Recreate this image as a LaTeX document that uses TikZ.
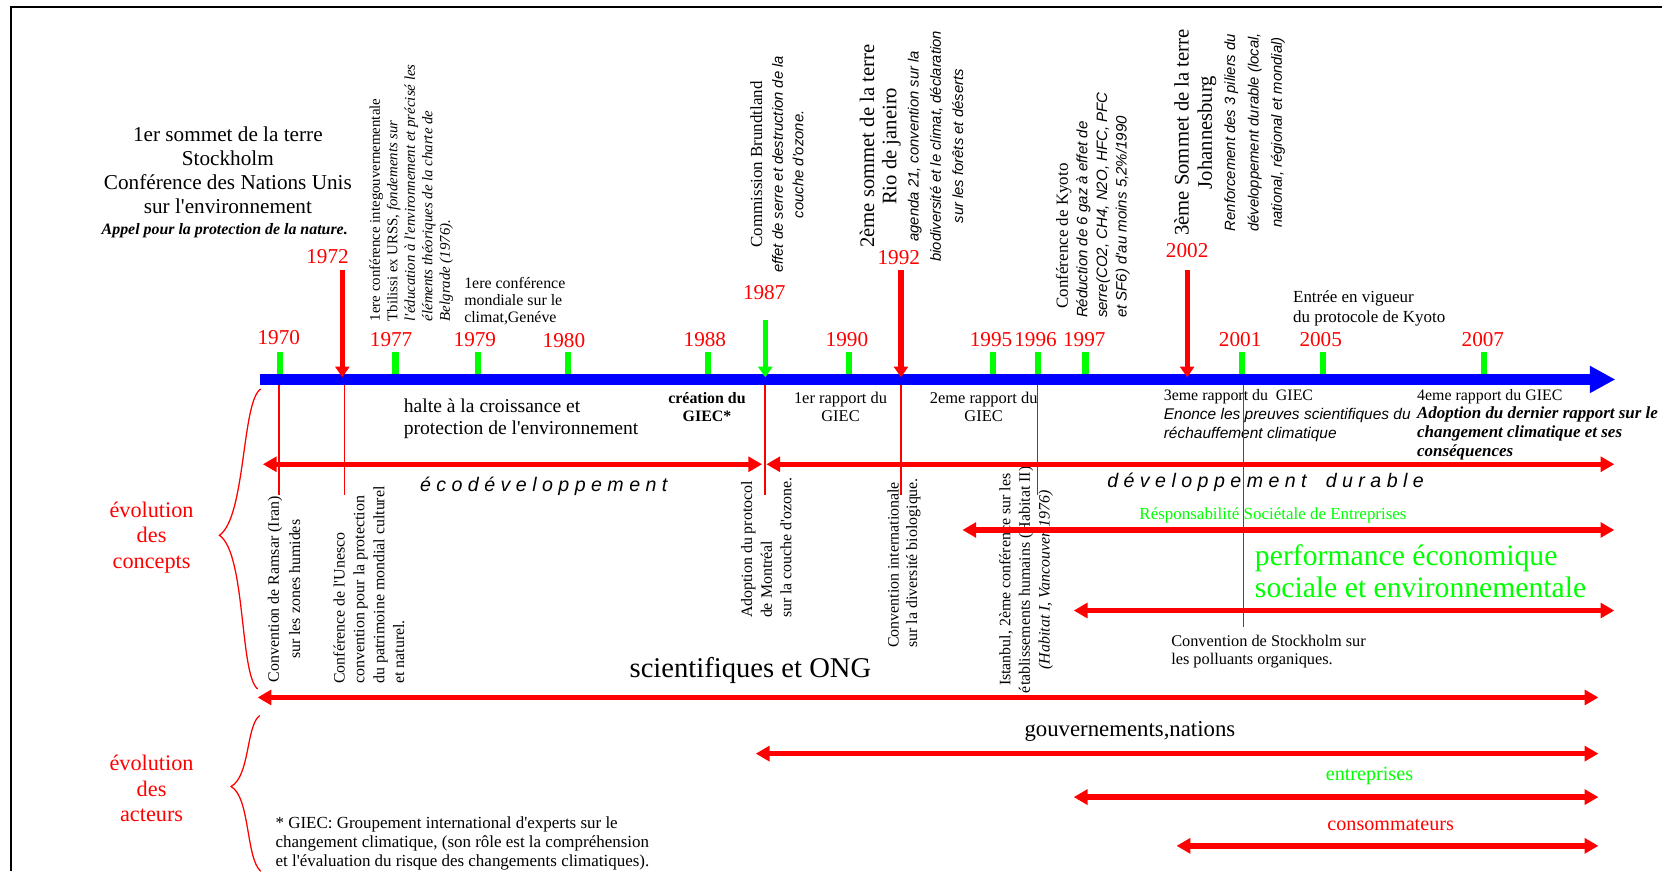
\documentclass[tikz,border=0pt]{standalone}
\usepackage{fontspec}
\setmainfont{Liberation Serif}[Ligatures=TeXOff]
\setsansfont{Liberation Sans}[Ligatures=TeXOff]
\usetikzlibrary{arrows.meta}
\newcommand\myfs[2]{\fontsize{#1}{#2}\selectfont}
\begin{document}
\begin{tikzpicture}[x=1pt,y=-1pt,
  every node/.style={inner sep=0pt, outer sep=0pt},
  yr/.style={text=red, font=\myfs{20}{22}},
  rot/.style={rotate=90},
  tickmark/.style={draw=green, line width=6pt},
  axisline/.style={draw=blue, line width=10pt, -{Triangle[length=24pt,width=24pt]}},
  downred/.style={draw=red, line width=5pt, -{Triangle[length=10pt,width=13pt]}},
  downgreen/.style={draw=green, line width=5pt, -{Triangle[length=10pt,width=13pt]}},
  dbl/.style={draw=red, line width=5pt, {Triangle[length=13pt,width=14pt]}-{Triangle[length=13pt,width=14pt]}},
  thinred/.style={draw=red, line width=1.5pt},
  bracestyle/.style={draw=red, line width=1.2pt}
]
\useasboundingbox (0,0) rectangle (1568,822);
% frame
\draw[line width=2pt] (10,822) -- (10,7) -- (1568,7);

% axis
\coordinate (ax0) at (245,358);
\coordinate (ax1) at (1524,358);
\draw[axisline] (ax0) -- (ax1);

% green ticks
\foreach \n/\x in {1970/264,1977/373,1979/451,1980/536,1988/668,1990/801,1995/937,1996/979,1997/1024,2001/1172,2005/1248,2007/1400}{
  \coordinate (t\n) at (\x,353);
  \coordinate (u\n) at (\x,332);
  \draw[tickmark] (t\n) -- (u\n);
}
% 1987 green arrow
\coordinate (g87a) at (722,302);
\coordinate (g87b) at (722,356);
\draw[downgreen] (g87a) -- (g87b);
% red arrows
\foreach \n/\x in {1972/323,1992/850,2002/1120}{
  \coordinate (ra\n) at (\x,255);
  \coordinate (rb\n) at (\x,356);
  \draw[downred] (ra\n) -- (rb\n);
}

% year labels
\node[yr] (y1970) at (263,318) {1970};
\node[yr] (y1972) at (309,242) {1972};
\node[yr] (y1977) at (369,320) {1977};
\node[yr] (y1979) at (448,320) {1979};
\node[yr] (y1980) at (532,321) {1980};
\node[yr] (y1987) at (721,276) {1987};
\node[yr] (y1988) at (665,320) {1988};
\node[yr] (y1990) at (799,320) {1990};
\node[yr] (y1992) at (848,243) {1992};
\node[yr] (y1995) at (935,320) {1995};
\node[yr] (y1996) at (977,320) {1996};
\node[yr] (y1997) at (1023,320) {1997};
\node[yr] (y2001) at (1170,320) {2001};
\node[yr] (y2002) at (1120,236) {2002};
\node[yr] (y2005) at (1246,320) {2005};
\node[yr] (y2007) at (1399,320) {2007};

% top-left block
\node[align=center, font=\myfs{20}{22.7}] (stk) at (215,161) {1er sommet de la terre\\Stockholm\\Conférence des Nations Unis\\sur l'environnement};
\node[font=\myfs{15}{18}\bfseries\itshape] (appel) at (212,218) {Appel pour la protection de la nature.};

% rotated top texts
\node[rot, anchor=west, align=left, font=\myfs{14}{16.5}] (tbil) at (388,303) {1ere conférence integouvernementale\\Tbilissi ex URSS, \textit{fondements sur}\\\textit{l'éducation à l'environnement et précisé les}\\\textit{éléments théoriques de la charte de}\\\textit{Belgrade (1976).}};
\node[anchor=west, align=left, font=\myfs{15}{16}] (genev) at (438,284) {1ere conférence\\mondiale sur le\\climat,Genéve};
\node[rot, align=center, font=\myfs{14}{19.5}] (brund) at (733,155) {{\myfs{16}{19}Commission Brundtland}\\{\sffamily\itshape effet de serre et destruction de la}\\{\sffamily\itshape couche d'ozone.}};
\node[rot, align=center, font=\myfs{14}{21}] (rio) at (860,138) {{\myfs{19.5}{21}2ème sommet de la terre}\\{\myfs{19.5}{21}Rio de janeiro}\\{\sffamily\itshape agenda 21, convention sur la}\\{\sffamily\itshape biodiversité et le climat, déclaration}\\{\sffamily\itshape sur les forêts et déserts}};
\node[rot, anchor=west, align=left, font=\myfs{14.2}{18.5}] (kyoto) at (1031,300) {\hspace{9pt}{\myfs{16}{18}Conférence de Kyoto}\\{\sffamily\itshape Réduction de 6 gaz à effet de}\\{\sffamily\itshape serre(CO2, CH4, N2O, HFC, PFC}\\{\sffamily\itshape et SF6) d'au moins 5,2\%/1990}};
\node[rot, align=center, font=\myfs{14}{22}] (joh) at (1160,125) {{\myfs{19.5}{22}3ème Sommet de la terre}\\{\myfs{19.5}{22}Johannesburg}\\{\sffamily\itshape Renforcement des 3 piliers du}\\{\sffamily\itshape développement durable (local,}\\{\sffamily\itshape national, régional et mondial)}};
\node[anchor=west, align=left, font=\myfs{16}{18}] (vig) at (1220,291) {Entrée en vigueur\\du protocole de Kyoto};

% below-axis texts
\node[anchor=west, align=left, font=\myfs{18.5}{21}] (halte) at (381,395) {halte à la croissance et\\protection de l'environnement};
\node[align=center, font=\myfs{15}{17}\bfseries] (creat) at (667,384) {création du\\GIEC*};
\node[align=center, font=\myfs{15.5}{17}] (rap1) at (793,384) {1er rapport du\\GIEC};
\node[align=center, font=\myfs{15.5}{17}] (rap2) at (928,384) {2eme rapport du\\GIEC};
\node[anchor=north west, align=left, font=\myfs{14.6}{18}] (rap3) at (1098,367) {{\myfs{15}{18}3eme rapport du\ \ GIEC}\\{\sffamily\itshape Enonce les preuves scientifiques du}\\{\sffamily\itshape réchauffement climatique}};
\node[anchor=north west, align=left, font=\myfs{16}{17.7}] (rap4) at (1337,367) {{\myfs{15}{17.7}4eme rapport du GIEC}\\{\bfseries\itshape Adoption du dernier rapport sur le}\\{\bfseries\itshape changement climatique et ses}\\{\bfseries\itshape conséquences}};

\node[font=\myfs{18.5}{20}\sffamily\itshape] (eco) at (513,459) {é c o d é v e l o p p e m e n t};
\node[font=\myfs{18.5}{20}\sffamily\itshape] (ddur) at (1194,455) {d é v e l o p p e m e n t\hspace{18pt}d u r a b l e};
\node[text=green, font=\myfs{16}{18}] (rse) at (1201,486) {Résponsabilité Sociétale de Entreprises};
\node[text=green, anchor=west, align=left, font=\myfs{28}{30}] (perf) at (1184,539) {performance économique\\sociale et environnementale};
\node[anchor=west, align=left, font=\myfs{15.4}{17}] (cstk) at (1105,615) {Convention de Stockholm sur\\les polluants organiques.};
\node[font=\myfs{27}{29}] (sci) at (708,633) {scientifiques et ONG};
\node[font=\myfs{21.5}{24}] (gov) at (1066,690) {gouvernements,nations};
\node[text=green, font=\myfs{19}{22}] (entr) at (1292,732) {entreprises};
\node[text=red, font=\myfs{19}{22}] (cons) at (1312,778) {consommateurs};
\node[anchor=west, align=left, font=\myfs{16}{17.8}] (note) at (260,796) {* GIEC: Groupement international d'experts sur le\\changement climatique, (son rôle est la compréhension\\et l'évaluation du risque des changements climatiques).};

\node[text=red, align=center, font=\myfs{21}{24}] (evc) at (143,507) {évolution\\des\\concepts};
\node[text=red, align=center, font=\myfs{21}{24}] (eva) at (143,744) {évolution\\des\\acteurs};

% rotated below texts
\node[rot, align=center, font=\myfs{15}{20}] (ramsar) at (268,556) {Convention de Ramsar (Iran)\\sur les zones humides};
\node[rot, anchor=west, align=left, font=\myfs{15}{18.7}] (unesco) at (348,645) {Conférence de l'Unesco\\convention pour la protection\\du patrimoine mondial culturel\\et naturel.};
\node[rot, anchor=west, align=left, font=\myfs{15}{18.5}] (mtl) at (723,583) {Adoption du protocol\\de Montréal\\sur la couche d'ozone.};
\node[rot, anchor=west, align=left, font=\myfs{15}{17.5}] (biod) at (853,611) {Convention internationale\\sur la diversité biologique.};
\node[rot, align=center, font=\myfs{15}{18.5}] (istb) at (968,547) {Istanbul, 2ème conférence sur les\\établissements humains (Habitat II)\\\textit{(Habitat I, Vancouver 1976)}};

% thin red verticals
\foreach \n/\x/\y in {1970/263/467,1972/325/467,1987/722/467,1992/850/467,1996/979/467,2001/1173/592}{
  \coordinate (va\n) at (\x,363);
  \coordinate (vb\n) at (\x,\y);
  \draw[thinred] (va\n) -- (vb\n);
}

% double arrows
\coordinate (ecoL) at (248,438); \coordinate (ecoR) at (719,438);
\draw[dbl] (ecoL) -- (ecoR);
\coordinate (ddL) at (723,438); \coordinate (ddR) at (1523,438);
\draw[dbl] (ddL) -- (ddR);
\coordinate (rseL) at (908,500); \coordinate (rseR) at (1523,500);
\draw[dbl] (rseL) -- (rseR);
\coordinate (perfL) at (1013,576); \coordinate (perfR) at (1523,576);
\draw[dbl] (perfL) -- (perfR);
\coordinate (sciL) at (243,658); \coordinate (sciR) at (1508,658);
\draw[dbl] (sciL) -- (sciR);
\coordinate (govL) at (713,711); \coordinate (govR) at (1508,711);
\draw[dbl] (govL) -- (govR);
\coordinate (entL) at (1013,752); \coordinate (entR) at (1508,752);
\draw[dbl] (entL) -- (entR);
\coordinate (conL) at (1110,798); \coordinate (conR) at (1508,798);
\draw[dbl] (conL) -- (conR);

% braces
\coordinate (b1t) at (246,367); \coordinate (b1m) at (207,505); \coordinate (b1b) at (243,650);
\draw[bracestyle] (b1t) .. controls (228,378) and (232,488) .. (b1m) .. controls (232,522) and (226,636) .. (b1b);
\coordinate (b2t) at (245,675); \coordinate (b2m) at (218,742); \coordinate (b2b) at (246,822);
\draw[bracestyle] (b2t) .. controls (232,685) and (236,732) .. (b2m) .. controls (236,752) and (232,810) .. (b2b);
\end{tikzpicture}
\end{document}
